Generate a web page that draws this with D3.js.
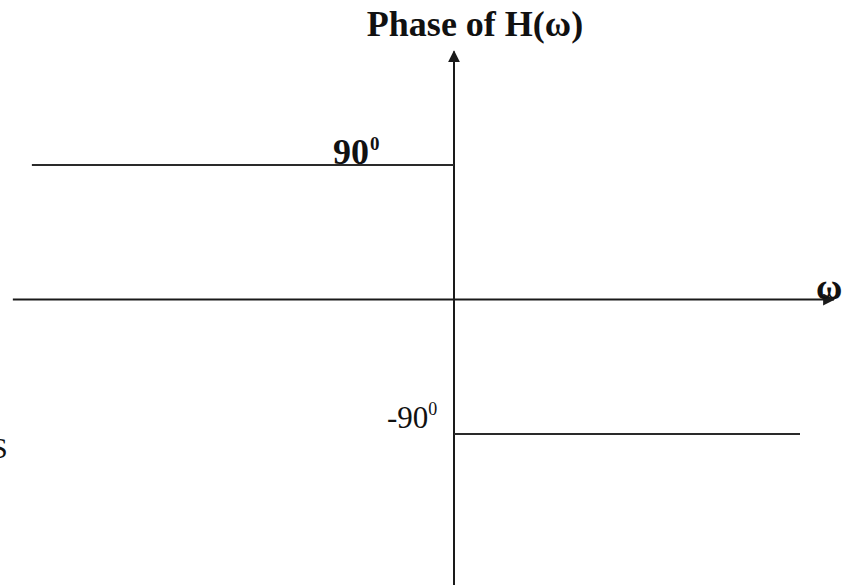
<!DOCTYPE html>
<html>
<head>
<meta charset="utf-8">
<script src="https://cdn.jsdelivr.net/npm/d3@7"></script>
<style>
  html, body { margin: 0; padding: 0; background: #fff; }
  svg { display: block; font-family: "Liberation Serif", "Times New Roman", serif; }
</style>
</head>
<body>
<svg id="chart" width="842" height="585"></svg>
<script>
// Phase response of an ideal Hilbert-type system: +90° for ω<0, −90° for ω>0
const segmentStart = [-1.22, 0];      // ω where each flat piece begins
const segmentEnd   = [0, 1];          // ω where each flat piece ends
const phaseDeg     = [90, -90];       // phase of each piece, degrees
const phaseLabels  = ["90", "-90"];   // tick texts (with superscript ⁰)
const omegaExtent  = [-1.275, 1.098]; // horizontal axis span
const phaseExtent  = [-196, 166];     // vertical axis span

const svg = d3.select("#chart");
const x = d3.scaleLinear().domain([0, 1]).range([454, 800]);
const y = d3.scaleLinear().domain([-90, 90]).range([434, 165]);

const ink = "#1a1a1a";

// arrow marker for axis ends
svg.append("defs").append("marker")
  .attr("id", "arrow").attr("viewBox", "0 0 10 10")
  .attr("refX", 9).attr("refY", 5)
  .attr("markerWidth", 12).attr("markerHeight", 12)
  .attr("markerUnits", "userSpaceOnUse")
  .attr("orient", "auto")
  .append("path").attr("d", "M0,0 L10,5 L0,10 Z").attr("fill", ink);

// horizontal ω axis
svg.append("line")
  .attr("x1", x(omegaExtent[0])).attr("x2", x(omegaExtent[1]))
  .attr("y1", y(0)).attr("y2", y(0))
  .attr("stroke", ink).attr("stroke-width", 2)
  .attr("marker-end", "url(#arrow)");

// vertical phase axis
svg.append("line")
  .attr("x1", x(0)).attr("x2", x(0))
  .attr("y1", y(phaseExtent[0])).attr("y2", y(phaseExtent[1]))
  .attr("stroke", ink).attr("stroke-width", 2)
  .attr("marker-end", "url(#arrow)");

// flat phase segments
const segs = d3.range(phaseDeg.length).map(i => ({
  a: segmentStart[i], b: segmentEnd[i], p: phaseDeg[i], label: phaseLabels[i]
}));

svg.selectAll("line.seg").data(segs).join("line")
  .attr("class", "seg")
  .attr("x1", d => x(d.a)).attr("x2", d => x(d.b))
  .attr("y1", d => y(d.p)).attr("y2", d => y(d.p))
  .attr("stroke", "#2a2a2a").attr("stroke-width", 1.8);

// phase value labels
const lab90 = svg.append("text")
  .attr("x", 333).attr("y", y(90) - 1)
  .attr("font-size", 36).attr("font-weight", "bold").attr("fill", "#111");
lab90.append("tspan").text(segs[0].label);
lab90.append("tspan").attr("font-size", 19).attr("dx", 1).attr("dy", -14).text("0");

const labM90 = svg.append("text")
  .attr("x", 387).attr("y", y(-90) - 6)
  .attr("font-size", 31).attr("fill", "#111");
labM90.append("tspan").text(segs[1].label);
labM90.append("tspan").attr("font-size", 18).attr("dy", -13).text("0");

// title
svg.append("text")
  .attr("x", 475).attr("y", 36)
  .attr("text-anchor", "middle")
  .attr("font-size", 36).attr("font-weight", "bold").attr("fill", "#111")
  .text("Phase of H(\u03C9)");

// ω label at the end of the horizontal axis
svg.append("text")
  .attr("x", 816).attr("y", 299)
  .attr("font-size", 36).attr("font-weight", "bold").attr("fill", "#111")
  .text("\u03C9");

// partial letter at the left edge
svg.append("text")
  .attr("x", -9).attr("y", 458)
  .attr("font-size", 30).attr("fill", "#111")
  .text("S");
</script>
</body>
</html>
